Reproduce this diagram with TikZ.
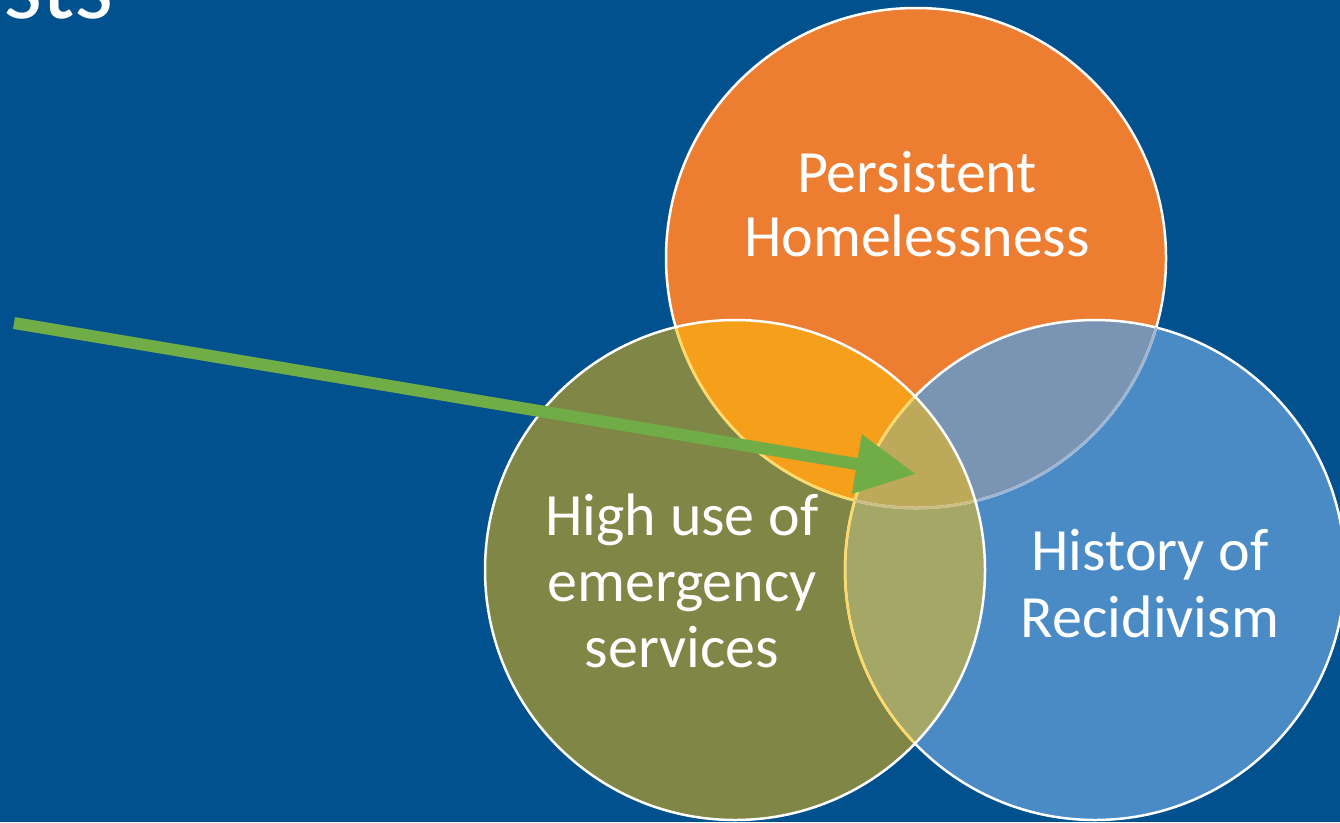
\documentclass[tikz,border=0pt]{standalone}
\usepackage{fontspec}
\setmainfont{Carlito}
\usetikzlibrary{arrows.meta}
\definecolor{bgblue}{HTML}{02518F}
\definecolor{corange}{HTML}{ED7D31}
\definecolor{colive}{HTML}{808646}
\definecolor{cblue}{HTML}{4A8BC6}
\definecolor{coo}{HTML}{F59F1A}
\definecolor{cob}{HTML}{7A95B3}
\definecolor{cgb}{HTML}{A5A766}
\definecolor{ctri}{HTML}{BCAA5A}
\definecolor{cyel}{HTML}{FFD966}
\definecolor{cfaintb}{HTML}{9DB5D3}
\definecolor{cfaintt}{HTML}{CABE86}
\definecolor{carrow}{HTML}{70AD47}
\tikzset{
  rim/.style={line width=2.5pt},
  lbl/.style={text=white, font=\fontsize{60}{66}\selectfont, inner sep=0pt, anchor=base},
  title/.style={text=white, font=\fontsize{100}{110}\selectfont, inner sep=0pt, anchor=base west},
  pointer/.style={draw=carrow, line width=12pt, -{Triangle[length=60pt,width=57pt]}}
}
\begin{document}
\begin{tikzpicture}[x=1pt,y=-1pt]
\useasboundingbox (0,0) rectangle (1340,822);
\clip (0,0) rectangle (1340,822);
\fill[bgblue] (0,0) rectangle (1340,822);
\coordinate (O) at (916,258);
\coordinate (G) at (735,570);
\coordinate (B) at (1095,570);
% base fills
\fill[corange] (O) circle (250pt);
\fill[colive] (G) circle (250pt);
\fill[cblue] (B) circle (250pt);
\begin{scope}
  \clip (G) circle (250pt);
  \fill[cgb] (B) circle (250pt);
\end{scope}
\begin{scope}
  \clip (O) circle (250pt);
  \fill[coo] (G) circle (250pt);
  \fill[cob] (B) circle (250pt);
  \clip (G) circle (250pt);
  \fill[ctri] (B) circle (250pt);
\end{scope}
% outlines
\draw[rim, white] (O) circle (250pt);
\draw[rim, white] (B) circle (250pt);
\begin{scope}
  \clip (B) circle (250pt);
  \draw[rim, cfaintb] (O) circle (250pt);
\end{scope}
\begin{scope}
  \clip (G) circle (250pt);
  \draw[rim, cyel] (O) circle (250pt);
  \draw[rim, cyel] (B) circle (250pt);
  \clip (B) circle (250pt);
  \draw[rim, cfaintt] (O) circle (250pt);
\end{scope}
\draw[rim, white] (G) circle (250pt);
% texts
\node[title] (ttl) at (3,18) {sts};
\node[lbl] (ph1) at (917,192) {Persistent};
\node[lbl] (ph2) at (917,256) {Homelessness};
\node[lbl] (hu1) at (682,535) {High use of};
\node[lbl] (hu2) at (682,601) {emergency};
\node[lbl] (hu3) at (682,667) {services};
\node[lbl] (hr1) at (1150,570) {History of};
\node[lbl] (hr2) at (1150,637) {Recidivism};
% arrow
\coordinate (arrstart) at (14,323);
\coordinate (arrtip) at (916,474);
\draw[pointer] (arrstart) -- (arrtip);
\end{tikzpicture}
\end{document}
